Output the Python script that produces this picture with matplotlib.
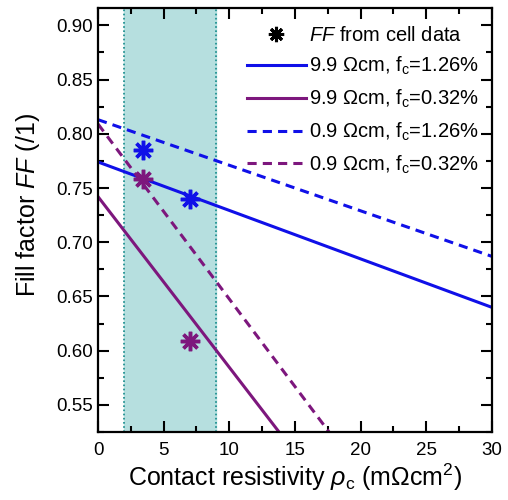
import matplotlib
matplotlib.use("Agg")
import matplotlib.pyplot as plt
from matplotlib.ticker import MultipleLocator

plt.rcParams['font.family'] = ['Liberation Sans', 'DejaVu Sans']
plt.rcParams['mathtext.fontset'] = 'custom'
plt.rcParams['mathtext.rm'] = 'Liberation Sans'
plt.rcParams['mathtext.it'] = 'Liberation Sans:italic'

# Data
x_line = [0, 30]
ff_99_126 = [0.774, 0.640]
ff_99_032 = [0.742, 0.270]
ff_09_126 = [0.813, 0.687]
ff_09_032 = [0.809, 0.325]

cell_x_blue = [3.4, 7.0]
cell_ff_blue = [0.785, 0.740]
cell_x_purple = [3.4, 7.0]
cell_ff_purple = [0.758, 0.609]

shade_range = [2.0, 9.0]

labels = ["$FF$ from cell data",
          "9.9 \u03a9cm, f$_\\mathrm{c}$=1.26%",
          "9.9 \u03a9cm, f$_\\mathrm{c}$=0.32%",
          "0.9 \u03a9cm, f$_\\mathrm{c}$=1.26%",
          "0.9 \u03a9cm, f$_\\mathrm{c}$=0.32%"]

blue = "#1010e8"
purple = "#7d177d"

fig = plt.figure(figsize=(5.08, 5.0), dpi=100)
ax = fig.add_axes([0.193, 0.136, 0.775, 0.848])

ax.axvspan(shade_range[0], shade_range[1], color="#b6dfdf", zorder=0)
for xv in shade_range:
    ax.axvline(xv, color="#138a8a", ls=(0, (1, 1.5)), lw=1.2, zorder=1)

star = (8, 2, 0)
h0, = ax.plot([], [], ls='none', marker=star, ms=11, mew=2.2, color='black')
h1, = ax.plot(x_line, ff_99_126, color=blue, lw=2.2)
h2, = ax.plot(x_line, ff_99_032, color=purple, lw=2.2)
h3, = ax.plot(x_line, ff_09_126, color=blue, lw=2.2, ls=(0, (3, 2)))
h4, = ax.plot(x_line, ff_09_032, color=purple, lw=2.2, ls=(0, (3, 2)))
ax.plot(cell_x_blue, cell_ff_blue, ls='none', marker=star, ms=14, mew=2.5, color=blue, zorder=5)
ax.plot(cell_x_purple, cell_ff_purple, ls='none', marker=star, ms=14, mew=2.5, color=purple, zorder=5)

ax.set_xlim(0, 30)
ax.set_ylim(0.525, 0.916)
ax.xaxis.set_major_locator(MultipleLocator(5))
ax.xaxis.set_minor_locator(MultipleLocator(2.5))
ax.yaxis.set_major_locator(MultipleLocator(0.05))
ax.yaxis.set_minor_locator(MultipleLocator(0.025))
ax.yaxis.set_major_formatter(matplotlib.ticker.FormatStrFormatter('%.2f'))
ax.tick_params(which='both', direction='in', top=True, right=True, width=1.5, labelsize=13.5)
ax.tick_params(which='major', length=8)
ax.tick_params(which='minor', length=4.5)
ax.tick_params(axis='x', pad=7)
for s in ax.spines.values():
    s.set_linewidth(1.6)

ax.set_xlabel("Contact resistivity $\\rho_\\mathrm{c}$ (m\u03a9cm$^2$)", fontsize=18, labelpad=2)
ax.set_ylabel("Fill factor $FF$ (/1)", fontsize=18)
ax.yaxis.set_label_coords(-0.142, 0.535)

ax.legend([h0, h1, h2, h3, h4], labels, loc='upper right', frameon=False,
          fontsize=14.5, handlelength=2.9, handletextpad=0.15, labelspacing=0.52,
          borderaxespad=0.2, bbox_to_anchor=(0.998, 0.987))

fig.savefig("out.png", dpi=100)
